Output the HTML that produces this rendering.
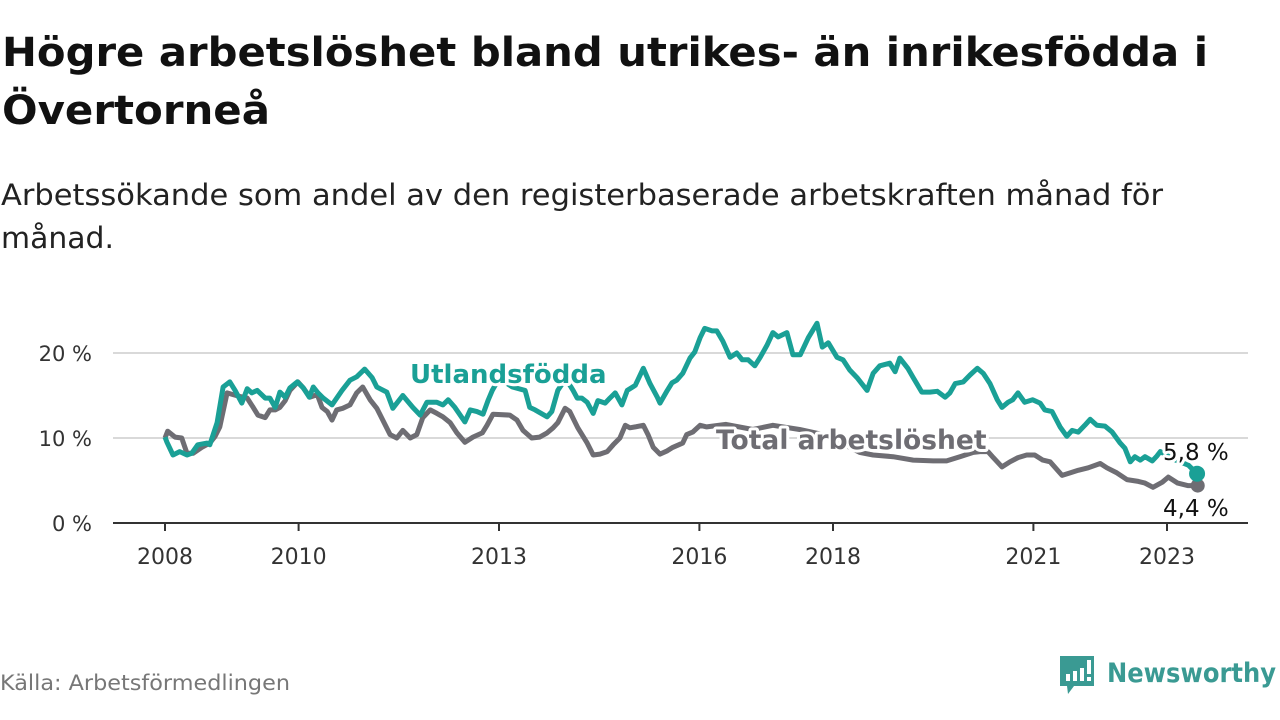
<!DOCTYPE html>
<html><head><meta charset="utf-8">
<style>
body{margin:0;width:1280px;height:720px;background:#fff;overflow:hidden;font-family:"Liberation Sans",sans-serif}
svg{position:absolute;left:0;top:0}
</style></head>
<body>
<svg width="1280" height="720">
<text x="2" y="66" font-family="DejaVu Sans, sans-serif" font-weight="bold" font-size="40" textLength="1206" lengthAdjust="spacingAndGlyphs" fill="#111">Högre arbetslöshet bland utrikes- än inrikesfödda i</text>
<text x="2" y="124" font-family="DejaVu Sans, sans-serif" font-weight="bold" font-size="40" textLength="268" lengthAdjust="spacingAndGlyphs" fill="#111">Övertorneå</text>
<text x="1" y="205" font-family="DejaVu Sans, sans-serif" font-size="29" textLength="1162" lengthAdjust="spacingAndGlyphs" fill="#222">Arbetssökande som andel av den registerbaserade arbetskraften månad för</text>
<text x="1" y="248" font-family="DejaVu Sans, sans-serif" font-size="29" textLength="113" lengthAdjust="spacingAndGlyphs" fill="#222">månad.</text>
<g id="grid"></g>
<g id="xaxis"></g>
<g id="lines"></g>
<g id="labels"></g>
<text x="0" y="690" font-family="DejaVu Sans, sans-serif" font-size="21" textLength="290" lengthAdjust="spacingAndGlyphs" fill="#777">Källa: Arbetsförmedlingen</text>
<g>
<path d="M1060 656 h34 v30 h-20 l-6 8 l-1 -8 h-7 z" fill="#3a9a93"/>
<rect x="1066" y="674" width="4" height="7" fill="#fff"/><rect x="1073" y="671" width="4" height="10" fill="#fff"/><rect x="1080" y="668" width="4" height="13" fill="#fff"/><rect x="1087" y="660" width="4" height="14" fill="#fff"/><rect x="1087" y="677" width="4" height="4" fill="#fff"/>
<text x="1107" y="682" font-family="DejaVu Sans, sans-serif" font-weight="bold" font-size="27" textLength="169" lengthAdjust="spacingAndGlyphs" fill="#3a9a93">Newsworthy</text>
</g>
</svg>
<script>
const yTicks=[0,10,20];
const yTickLabels=["0 %","10 %","20 %"];
const xTicks=[2008,2010,2013,2016,2018,2021,2023];
const utlDates=[2008.0,2008.03,2008.12,2008.22,2008.33,2008.40,2008.49,2008.63,2008.67,2008.78,2008.87,2008.97,2009.05,2009.15,2009.23,2009.30,2009.38,2009.50,2009.57,2009.65,2009.72,2009.80,2009.87,2009.98,2010.07,2010.16,2010.22,2010.29,2010.37,2010.50,2010.65,2010.77,2010.87,2010.99,2011.10,2011.17,2011.32,2011.41,2011.56,2011.71,2011.82,2011.92,2012.07,2012.16,2012.24,2012.34,2012.49,2012.57,2012.67,2012.76,2012.84,2012.90,2013.0,2013.2,2013.39,2013.46,2013.54,2013.72,2013.79,2013.88,2014.0,2014.11,2014.17,2014.24,2014.32,2014.41,2014.48,2014.59,2014.66,2014.74,2014.84,2014.92,2015.04,2015.16,2015.26,2015.37,2015.41,2015.52,2015.59,2015.66,2015.75,2015.86,2015.93,2016.01,2016.08,2016.19,2016.26,2016.35,2016.46,2016.56,2016.64,2016.73,2016.83,2016.91,2017.01,2017.10,2017.18,2017.31,2017.40,2017.51,2017.63,2017.76,2017.84,2017.93,2018.06,2018.15,2018.25,2018.36,2018.51,2018.60,2018.70,2018.85,2018.93,2019.00,2019.12,2019.20,2019.33,2019.45,2019.56,2019.68,2019.75,2019.83,2019.95,2020.05,2020.16,2020.25,2020.35,2020.46,2020.53,2020.62,2020.69,2020.77,2020.87,2020.99,2021.10,2021.17,2021.28,2021.40,2021.50,2021.58,2021.67,2021.77,2021.85,2021.95,2022.07,2022.18,2022.30,2022.37,2022.45,2022.52,2022.60,2022.67,2022.78,2022.85,2022.90,2023.1,2023.32,2023.45];
const utlValues=[10.1,9.5,8.0,8.4,8.0,8.2,9.2,9.4,9.2,11.8,16.0,16.6,15.6,14.1,15.8,15.3,15.6,14.7,14.7,13.6,15.4,14.8,15.9,16.6,15.9,14.8,16.0,15.3,14.7,13.9,15.6,16.8,17.2,18.1,17.1,16.0,15.4,13.5,15.0,13.6,12.7,14.2,14.2,13.9,14.5,13.6,11.9,13.3,13.1,12.8,14.5,15.6,17.0,16.0,15.6,13.6,13.3,12.5,13.1,15.6,17.0,15.6,14.7,14.7,14.2,12.9,14.4,14.1,14.7,15.3,13.9,15.6,16.2,18.2,16.4,14.8,14.1,15.6,16.5,16.8,17.6,19.4,20.1,21.8,22.9,22.6,22.6,21.4,19.5,20.0,19.2,19.2,18.5,19.5,20.9,22.4,21.9,22.4,19.8,19.8,21.8,23.5,20.7,21.2,19.5,19.2,18.0,17.1,15.6,17.6,18.5,18.8,17.8,19.4,18.2,17.1,15.4,15.4,15.5,14.8,15.3,16.4,16.6,17.4,18.2,17.6,16.4,14.5,13.6,14.2,14.5,15.3,14.2,14.5,14.1,13.3,13.1,11.3,10.2,10.9,10.7,11.5,12.2,11.5,11.4,10.7,9.4,8.8,7.2,7.8,7.4,7.8,7.3,7.9,8.4,7.5,6.8,5.8];
const totDates=[2008.0,2008.04,2008.15,2008.25,2008.33,2008.42,2008.55,2008.67,2008.75,2008.82,2008.93,2009.02,2009.12,2009.23,2009.32,2009.39,2009.50,2009.57,2009.65,2009.72,2009.80,2009.87,2009.99,2010.07,2010.17,2010.28,2010.35,2010.43,2010.50,2010.57,2010.66,2010.77,2010.87,2010.96,2011.07,2011.17,2011.26,2011.37,2011.47,2011.56,2011.67,2011.77,2011.86,2011.97,2012.07,2012.16,2012.27,2012.37,2012.49,2012.61,2012.75,2012.82,2012.91,2013.16,2013.27,2013.36,2013.49,2013.61,2013.72,2013.81,2013.88,2013.99,2014.06,2014.18,2014.32,2014.41,2014.51,2014.62,2014.71,2014.81,2014.89,2014.96,2015.04,2015.16,2015.23,2015.31,2015.41,2015.52,2015.60,2015.75,2015.81,2015.90,2016.01,2016.11,2016.4,2016.8,2017.1,2017.5,2017.8,2018.1,2018.4,2018.6,2018.9,2019.2,2019.5,2019.7,2019.9,2020.1,2020.2,2020.32,2020.40,2020.53,2020.65,2020.77,2020.90,2021.02,2021.14,2021.25,2021.43,2021.55,2021.67,2021.82,2022.00,2022.10,2022.25,2022.40,2022.57,2022.67,2022.79,2022.93,2023.02,2023.16,2023.31,2023.46];
const totValues=[10.0,10.8,10.1,10.0,8.2,8.2,8.9,9.4,10.2,11.3,15.3,15.1,14.9,14.7,13.6,12.7,12.4,13.3,13.3,13.6,14.4,15.6,16.6,15.9,14.8,15.1,13.6,13.1,12.1,13.3,13.5,13.9,15.3,16.0,14.5,13.5,12.1,10.4,10.0,10.9,10.0,10.4,12.4,13.3,12.9,12.5,11.8,10.6,9.5,10.1,10.6,11.5,12.8,12.7,12.1,10.9,10.0,10.1,10.6,11.2,11.8,13.5,13.1,11.2,9.4,8.0,8.1,8.4,9.2,10.0,11.5,11.2,11.3,11.5,10.4,8.9,8.1,8.5,8.9,9.4,10.4,10.7,11.5,11.3,11.6,11.0,11.5,11.0,10.5,9.5,8.3,8.0,7.8,7.4,7.3,7.3,7.8,8.3,8.4,8.4,7.7,6.6,7.2,7.7,8.0,8.0,7.4,7.2,5.6,5.9,6.2,6.5,7.0,6.5,5.9,5.1,4.9,4.7,4.2,4.8,5.4,4.7,4.4,4.4];
const X=t=>165+(t-2008)*66.8;
const Y=v=>523-v*8.5;
const NS="http://www.w3.org/2000/svg";
function mk(tag,attrs,parent){const e=document.createElementNS(NS,tag);for(const k in attrs)e.setAttribute(k,attrs[k]);parent.appendChild(e);return e;}
const grid=document.getElementById('grid');
yTicks.forEach((v,i)=>{
  if(v>0){const l=mk('line',{x1:113,x2:1248,y1:Y(v),y2:Y(v),stroke:'#d9d9d9','stroke-width':2},grid);
  
  }
  const t=mk('text',{x:92,y:Y(v)+8,'text-anchor':'end','font-family':'DejaVu Sans, sans-serif','font-size':21,fill:'#333'},grid);
  t.textContent=yTickLabels[i];
  
  
});
const xa=document.getElementById('xaxis');
const ax=mk('line',{x1:113,x2:1248,y1:523,y2:523,stroke:'#333','stroke-width':2},xa);


xTicks.forEach(y=>{
  const tk=mk('line',{x1:X(y),x2:X(y),y1:523,y2:531,stroke:'#333','stroke-width':2},xa);
  
  
  const t=mk('text',{x:X(y),y:564,'text-anchor':'middle','font-family':'DejaVu Sans, sans-serif','font-size':22,fill:'#333'},xa);
  t.textContent=y;
  
  
});
const lg=document.getElementById('lines');
function path(d,v){return d.map((t,i)=>(i?'L':'M')+X(t).toFixed(1)+' '+Y(v[i]).toFixed(1)).join(' ');}
const pt=mk('path',{d:path(totDates,totValues),fill:'none',stroke:'#6e6d73','stroke-width':5,'stroke-linejoin':'round'},lg);


const pu=mk('path',{d:path(utlDates,utlValues),fill:'none',stroke:'#1aa096','stroke-width':5,'stroke-linejoin':'round'},lg);


const lb=document.getElementById('labels');
function lab(x,y,txt,fill,w,size,name){const t=mk('text',{x:x,y:y,'font-family':'DejaVu Sans, sans-serif','font-weight':w,'font-size':size,fill:fill,stroke:'#fff','stroke-width':6,'paint-order':'stroke','stroke-linejoin':'round'},lb);t.textContent=txt;return t;}
lab(410,383,'Utlandsfödda','#1aa096','bold',26,'utlandsfodda-label');
lab(716,449,'Total arbetslöshet','#6e6d73','bold',26.5,'total-label');
const ln=utlDates.length-1, tn=totDates.length-1;
const d2=mk('circle',{cx:X(totDates[tn]),cy:Y(totValues[tn]),r:7,fill:'#6e6d73'},lb);


const d1=mk('circle',{cx:X(utlDates[ln]),cy:Y(utlValues[ln]),r:8,fill:'#1aa096'},lb);


lab(1163,460,utlValues[ln].toFixed(1).replace('.',',')+' %','#111','normal',23,'utlandsfodda-end-value');
lab(1163,516,totValues[tn].toFixed(1).replace('.',',')+' %','#111','normal',23,'total-end-value');
</script>
</body></html>
